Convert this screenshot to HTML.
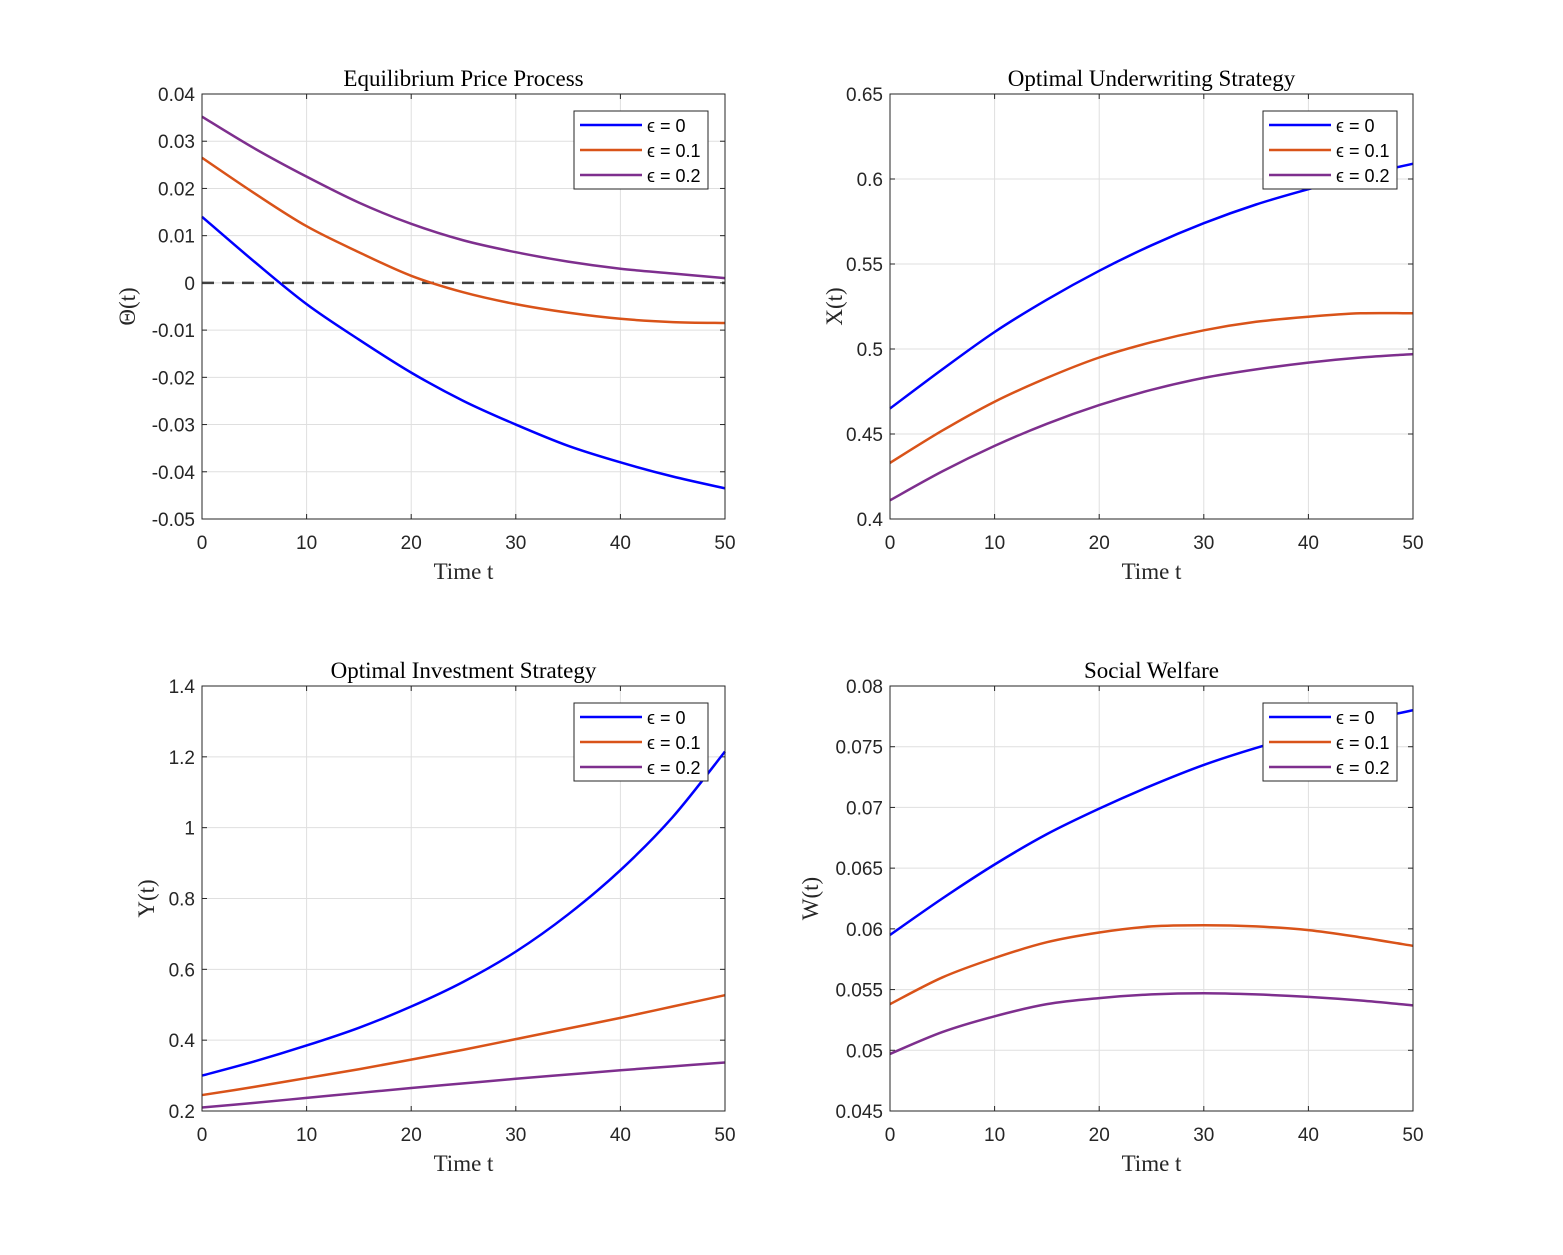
<!DOCTYPE html>
<html><head><meta charset="utf-8"><style>
html,body{margin:0;padding:0;background:#fff}
svg text{fill:#262626}
.tick{font-family:"Liberation Sans",sans-serif;font-size:19px}
.ttl{font-family:"Liberation Serif",serif;font-size:23px;fill:#000}
.lab{font-family:"Liberation Serif",serif;font-size:23px}
.leg{font-family:"Liberation Sans",sans-serif;font-size:18px;fill:#000}
</style></head><body>
<svg id="fig" width="1563" height="1250" xmlns="http://www.w3.org/2000/svg"></svg>
<script>
const tVals=[0,5,10,15,20,25,30,35,40,45,50];
const epsLabels=["0","0.1","0.2"];
const theta0=[0.014,0.0045,-0.0045,-0.012,-0.019,-0.025,-0.030,-0.0345,-0.038,-0.041,-0.0435];
const theta1=[0.0265,0.019,0.012,0.0065,0.0015,-0.002,-0.0045,-0.0063,-0.0076,-0.0083,-0.0085];
const theta2=[0.0352,0.0285,0.0225,0.017,0.0125,0.009,0.0065,0.0045,0.003,0.002,0.001];
const x0=[0.465,0.488,0.51,0.529,0.546,0.561,0.574,0.585,0.594,0.602,0.609];
const x1=[0.433,0.452,0.469,0.483,0.495,0.504,0.511,0.516,0.519,0.521,0.521];
const x2=[0.411,0.428,0.443,0.456,0.467,0.476,0.483,0.488,0.492,0.495,0.497];
const y0=[0.30,0.34,0.385,0.435,0.495,0.565,0.65,0.755,0.88,1.03,1.215];
const y1=[0.245,0.268,0.293,0.318,0.345,0.373,0.403,0.433,0.463,0.495,0.527];
const y2=[0.21,0.223,0.237,0.251,0.265,0.278,0.291,0.303,0.315,0.326,0.337];
const w0=[0.0595,0.0625,0.0653,0.0678,0.0699,0.0718,0.0735,0.0749,0.0761,0.0771,0.078];
const w1=[0.0538,0.0560,0.0576,0.0589,0.0597,0.0602,0.0603,0.0602,0.0599,0.0593,0.0586];
const w2=[0.0497,0.0515,0.0528,0.0538,0.0543,0.0546,0.0547,0.0546,0.0544,0.0541,0.0537];
const xTicks=[0,10,20,30,40,50];
const thetaTicks=["0.04","0.03","0.02","0.01","0","-0.01","-0.02","-0.03","-0.04","-0.05"];
const xsTicks=["0.65","0.6","0.55","0.5","0.45","0.4"];
const ysTicks=["1.4","1.2","1","0.8","0.6","0.4","0.2"];
const wsTicks=["0.08","0.075","0.07","0.065","0.06","0.055","0.05","0.045"];
const colors=["#0000ff","#d95319","#7e2f8e"];
const NS="http://www.w3.org/2000/svg";
const svg=document.getElementById('fig');
function el(tag,attrs,parent,txt){const e=document.createElementNS(NS,tag);for(const k in attrs)e.setAttribute(k,attrs[k]);if(txt!==undefined)e.textContent=txt;(parent||svg).appendChild(e);return e;}
function smooth(pts){let d='M'+pts[0][0]+','+pts[0][1];
  for(let i=0;i<pts.length-1;i++){const p0=pts[Math.max(i-1,0)],p1=pts[i],p2=pts[i+1],p3=pts[Math.min(i+2,pts.length-1)];
    const c1=[p1[0]+(p2[0]-p0[0])/6,p1[1]+(p2[1]-p0[1])/6],c2=[p2[0]-(p3[0]-p1[0])/6,p2[1]-(p3[1]-p1[1])/6];
    d+=` C${c1[0]},${c1[1]} ${c2[0]},${c2[1]} ${p2[0]},${p2[1]}`;}
  return d;}
function panel(key,L,T,title,ylab,yTickLabels,series,zeroLine){
  const R=L+523,B=T+425;
  const g=el('g',{});
  
  
  const yt=yTickLabels.map(Number);const ymax=Math.max(...yt),ymin=Math.min(...yt);
  const sx=v=>L+(v-0)/50*(R-L);
  const sy=v=>B-(v-ymin)/(ymax-ymin)*(B-T);
  xTicks.forEach(v=>{const X=sx(v);
    const gl=el('line',{x1:X,y1:T,x2:X,y2:B,stroke:'#dfdfdf','stroke-width':1},g);
    
    el('line',{x1:X,y1:B,x2:X,y2:B-5,stroke:'#262626'},g);el('line',{x1:X,y1:T,x2:X,y2:T+5,stroke:'#262626'},g);
    const t=el('text',{x:X,y:B+30,'text-anchor':'middle',class:'tick'},g,String(v));
    });
  yTickLabels.forEach(s=>{const Y=sy(Number(s));
    const gl=el('line',{x1:L,y1:Y,x2:R,y2:Y,stroke:'#dfdfdf','stroke-width':1},g);
    
    el('line',{x1:L,y1:Y,x2:L+5,y2:Y,stroke:'#262626'},g);el('line',{x1:R,y1:Y,x2:R-5,y2:Y,stroke:'#262626'},g);
    const t=el('text',{x:L-7,y:Y+7,'text-anchor':'end',class:'tick'},g,s);
    });
  if(zeroLine){const z=el('line',{x1:L,y1:sy(0),x2:R,y2:sy(0),stroke:'#404040','stroke-width':2.5,'stroke-dasharray':'12,8'},g);
    }
  series.forEach((arr,i)=>{const p=el('path',{d:smooth(arr.map((v,j)=>[sx(tVals[j]),sy(v)])),fill:'none',stroke:colors[i],'stroke-width':2.5},g);
    });
  const fr=el('rect',{x:L,y:T,width:R-L,height:B-T,fill:'none',stroke:'#262626','stroke-width':1},g);
  
  const ti=el('text',{x:(L+R)/2,y:T-8,'text-anchor':'middle',class:'ttl'},g,title);
  
  const xl=el('text',{x:(L+R)/2,y:B+60,'text-anchor':'middle',class:'lab'},g,'Time t');
  
  const yl=el('text',{x:0,y:0,'text-anchor':'middle',class:'lab',transform:`translate(${L-(key==='theta'?67:key==='w'?72:48)},${(T+B)/2}) rotate(-90)`},g,ylab);
  
  const lx=L+(key==='theta'||key==='y'?372:373),ly=T+17;
  const lg=el('g',{},g);
  
  el('rect',{x:lx,y:ly,width:134,height:78,fill:'#fff',stroke:'#262626'},lg);
  epsLabels.forEach((e,i)=>{const yy=ly+14+i*25;
    const le=el('g',{},lg);
    
    el('line',{x1:lx+6,y1:yy,x2:lx+68,y2:yy,stroke:colors[i],'stroke-width':2.5},le);
    el('text',{x:lx+73,y:yy+7,class:'leg'},le,'\u03f5 = '+e);});
}
panel('theta',202,94,'Equilibrium Price Process','\u0398(t)',thetaTicks,[theta0,theta1,theta2],true);
panel('x',890,94,'Optimal Underwriting Strategy','X(t)',xsTicks,[x0,x1,x2],false);
panel('y',202,686,'Optimal Investment Strategy','Y(t)',ysTicks,[y0,y1,y2],false);
panel('w',890,686,'Social Welfare','W(t)',wsTicks,[w0,w1,w2],false);
</script>
</body></html>
